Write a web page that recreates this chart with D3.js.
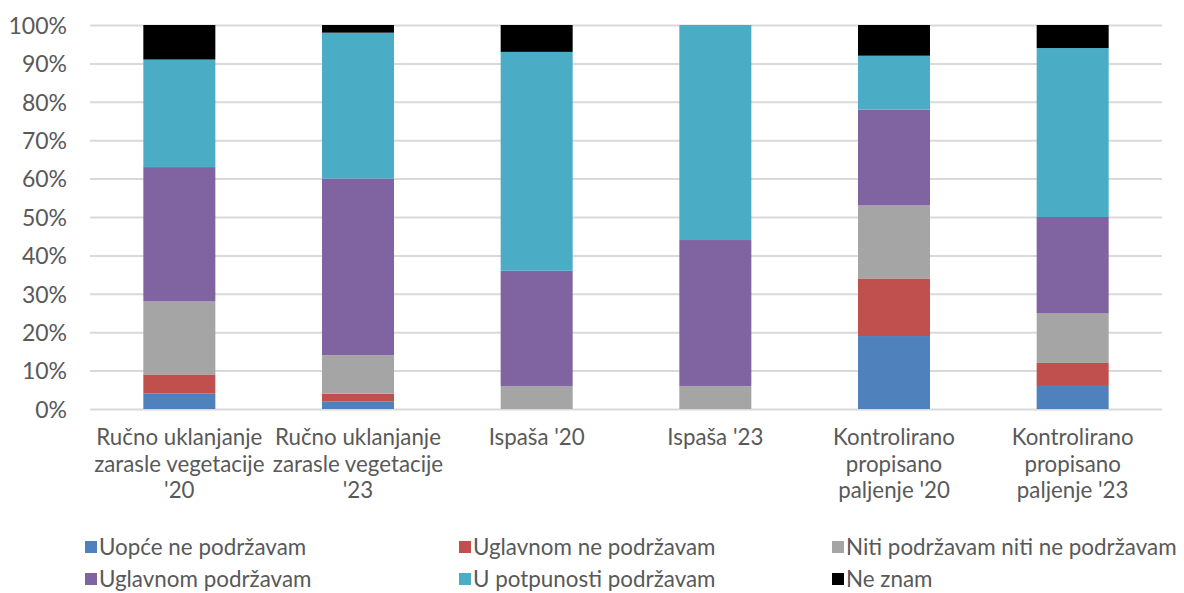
<!DOCTYPE html>
<html><head><meta charset="utf-8">
<script src="https://cdn.jsdelivr.net/npm/d3@7"></script>
<style>body{margin:0;background:#fff}svg{display:block}text{font-family:Lato,"Noto Sans",sans-serif;fill:#595959}</style>
</head><body><svg id="c" width="1184" height="593"></svg>
<script>
const categories = [["Ručno uklanjanje","zarasle vegetacije","'20"],["Ručno uklanjanje","zarasle vegetacije","'23"],["Ispaša '20"],["Ispaša '23"],["Kontrolirano","propisano","paljenje '20"],["Kontrolirano","propisano","paljenje '23"]];
const seriesNames = ["Uopće ne podržavam","Uglavnom ne podržavam","Niti podržavam niti ne podržavam","Uglavnom podržavam","U potpunosti podržavam","Ne znam"];
const uopce = [4,2,0,0,19,6];
const uglavnomNe = [5,2,0,0,15,6];
const niti = [19,10,6,6,19,13];
const uglavnom = [35,46,30,38,25,25];
const potpuno = [28,38,57,56,14,44];
const neZnam = [9,2,7,0,8,6];
const yTicks = [0,10,20,30,40,50,60,70,80,90,100];
const colors = ["#4F81BD","#C0504D","#A5A5A5","#8064A2","#4BACC6","#000000"];

const seriesVals = [uopce,uglavnomNe,niti,uglavnom,potpuno,neZnam];
const data = categories.map((c,i)=>{const o={i};seriesNames.forEach((s,k)=>o[s]=seriesVals[k][i]);return o;});
const stack = d3.stack().keys(seriesNames)(data);

const svg = d3.select("#c");
const pL=90,pR=1162,pT=25,pB=409;
const x = d3.scaleBand().domain(d3.range(categories.length)).range([pL,pR]).paddingInner(0.597).paddingOuter(0.2985);
const y = d3.scaleLinear().domain([0,100]).range([pB,pT]);

const yAxis = svg.append("g").attr("transform",`translate(${pL},0)`).call(d3.axisLeft(y).tickValues(yTicks).tickSize(-(pR-pL)).tickFormat(d=>d+"%"));
yAxis.select(".domain").remove();
yAxis.selectAll(".tick line").attr("stroke","#D9D9D9").attr("stroke-width",2);
yAxis.selectAll(".tick text").attr("x",-23).attr("dy","0.36em").style("font-size","23px").style("fill","#595959").style("font-family","Lato,'Noto Sans',sans-serif");

svg.append("g").selectAll("g").data(stack).join("g").attr("fill",(d,k)=>colors[k])
 .selectAll("rect").data(d=>d).join("rect")
 .attr("x",d=>x(d.data.i)).attr("width",x.bandwidth())
 .attr("y",d=>y(d[1])).attr("height",d=>y(d[0])-y(d[1]));

const xl = svg.append("g");
categories.forEach((lines,i)=>{
  const t = xl.append("text").attr("text-anchor","middle").style("font-size","22.3px");
  lines.forEach((ln,j)=>t.append("tspan").attr("x",x(i)+x.bandwidth()/2).attr("y",445+j*26.5).text(ln));
});

const lx=[85,459,832], ly=[547,579];
seriesNames.forEach((s,k)=>{
  const cx=lx[k%3], cy=ly[Math.floor(k/3)];
  svg.append("rect").attr("x",cx).attr("y",cy-6).attr("width",12).attr("height",12).attr("fill",colors[k]);
  svg.append("text").attr("x",cx+14).attr("y",cy).attr("dy","0.36em").style("font-size","22.4px").text(s);
});
</script></body></html>
